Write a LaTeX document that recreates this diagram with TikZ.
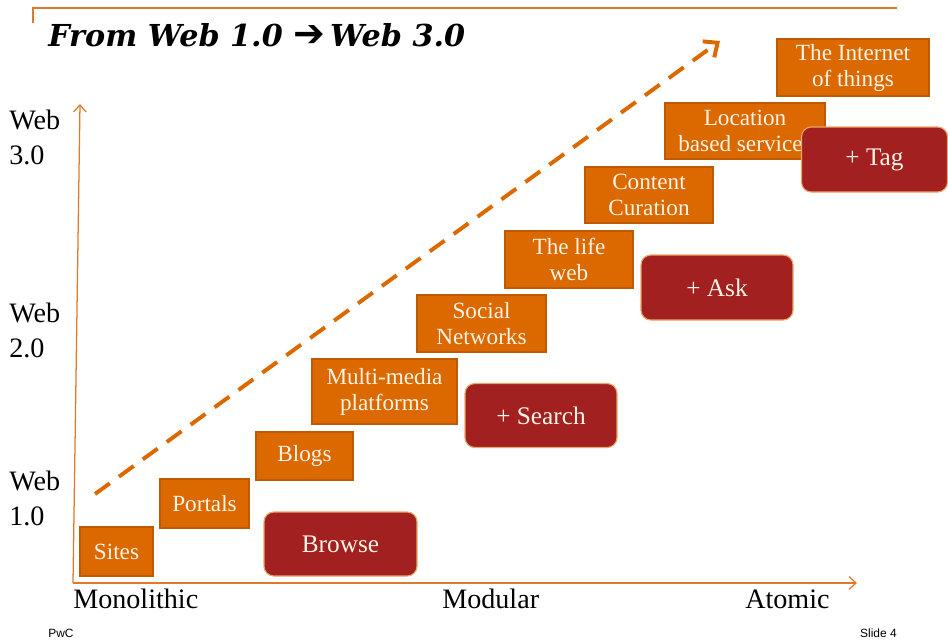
\documentclass[tikz,border=0pt]{standalone}
\usepackage{fontspec}
\setmainfont{Liberation Serif}
\newfontfamily\footfont{Liberation Sans}
\newfontfamily\titlefont{DejaVu Serif}
\newfontfamily\arrowfont{DejaVu Sans}
\usetikzlibrary{arrows.meta}
\definecolor{pwcorange}{HTML}{DC6900}
\definecolor{pwcedge}{HTML}{BF5A00}
\definecolor{pwcred}{HTML}{A32020}
\definecolor{pwcline}{HTML}{E07A2A}
\definecolor{cream}{HTML}{FFF4E6}

\begin{document}
\begin{tikzpicture}[x=0.025cm,y=-0.025cm,
  sz/.style 2 args={minimum width=#1*0.025cm, minimum height=#2*0.025cm},
  box/.style={draw=pwcedge, fill=pwcorange, text=cream, line width=0.8pt, inner sep=0pt, align=center, font=\fontsize{16.5}{18.5}\selectfont},
  act/.style={draw=pwcorange!60, fill=pwcred, text=cream, line width=0.8pt, rounded corners=7pt, inner sep=0pt, font=\fontsize{18}{20}\selectfont},
  lbl/.style={inner sep=0pt, font=\fontsize{20}{25}\selectfont}]
\useasboundingbox (0,0) rectangle (948,641);
% frame line and title
\draw [pwcline, line width=0.8pt] (33,23) -- (33,8) -- (897,8);
\node [anchor=base west, inner sep=0pt, font=\titlefont\fontsize{21.5}{21.5}\selectfont\bfseries\itshape] (title) at (48,46) {From Web 1.0 {\arrowfont\bfseries\fontsize{27}{27}\selectfont ➔}\,Web 3.0};
% axes
\coordinate (o) at (73,583);
\coordinate (ytop) at (80,104);
\coordinate (xend) at (857,583);
\draw [pwcline, line width=0.9pt, -{Straight Barb[length=5pt,width=9pt]}] (o) -- (ytop);
\draw [pwcline, line width=0.9pt, -{Straight Barb[length=5pt,width=9pt]}] (o) -- (xend);
% dashed trend
\coordinate (dstart) at (95,494);
\coordinate (dend) at (720,41);
\draw [pwcorange, line width=2.8pt, dash pattern=on 13pt off 8pt, -{Straight Barb[length=8pt,width=14pt]}] (dstart) -- (dend);
% axis labels
\node [lbl, anchor=north west, align=left] (web3) at (9,110) {Web\\3.0};
\node [lbl, anchor=north west, align=left] (web2) at (9,303) {Web\\2.0};
\node [lbl, anchor=north west, align=left] (web1) at (9,471) {Web\\1.0};
\node [lbl, anchor=base west] (mono) at (73,608) {Monolithic};
\node [lbl, anchor=base west] (modu) at (442,608) {Modular};
\node [lbl, anchor=base west] (atom) at (745,608) {Atomic};
% stages
\node [box, sz={73}{49}] (sites) at (116.5,551.5) {Sites};
\node [box, sz={89}{49}] (portals) at (204.5,503.5) {Portals};
\node [box, sz={97}{48}] (blogs) at (304.5,456) {Blogs};
\node [box, sz={145}{65}] (media) at (384.5,391.5) {Multi-media\\platforms};
\node [box, sz={129}{57}] (social) at (481.5,323.5) {Social\\Networks};
\node [box, sz={128}{57}] (life) at (569,259.5) {The life\\web};
\node [box, sz={128}{56}] (content) at (649,195) {Content\\Curation};
\node [box, sz={160}{56}] (location) at (745,131) {Location\\based services};
\node [box, sz={152}{57}] (things) at (853,67.5) {The Internet\\of things};
% actions
\node [act, sz={153}{64}] (browse) at (340.5,544) {Browse};
\node [act, sz={152}{64}] (search) at (541,415.5) {+ Search};
\node [act, sz={152}{65}] (ask) at (717,287.5) {+ Ask};
\node [act, sz={146}{65}] (tag) at (874.5,159.5) {+ Tag};
% footer
\node [anchor=base west, inner sep=0pt, font=\footfont\fontsize{8.5}{8.5}\selectfont] (pwc) at (48,637) {PwC};
\node [anchor=base east, inner sep=0pt, font=\footfont\fontsize{8.5}{8.5}\selectfont] (slide) at (897,637) {Slide 4};
\end{tikzpicture}
\end{document}
